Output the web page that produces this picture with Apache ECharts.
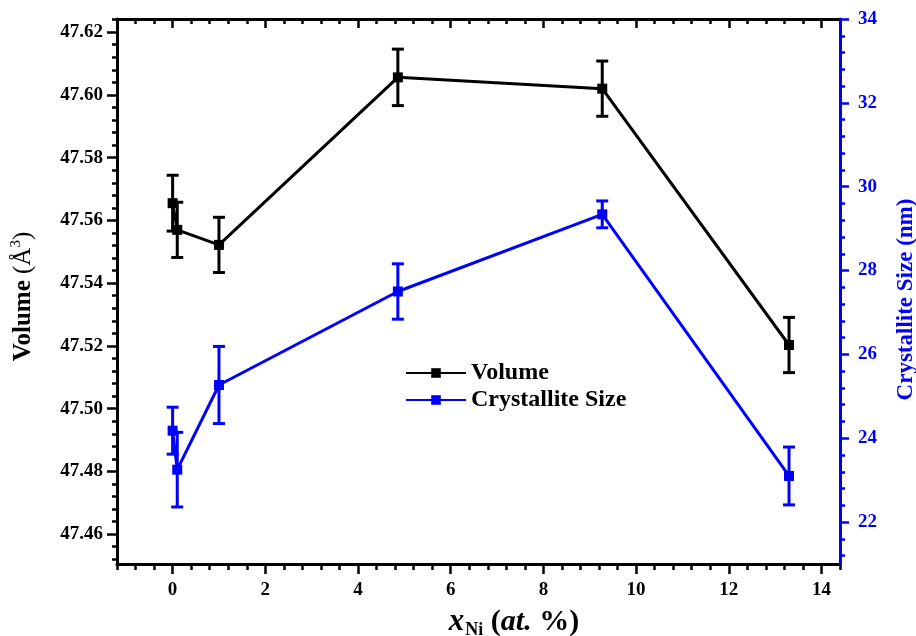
<!DOCTYPE html>
<html>
<head>
<meta charset="utf-8">
<script src="https://cdn.jsdelivr.net/npm/echarts@6/dist/echarts.min.js"></script>
<style>
  html, body { margin: 0; padding: 0; background: #fff; }
  #chart { width: 916px; height: 636px; }
</style>
</head>
<body>
<div id="chart"></div>
<script>
// Ni content (at. %)
const xNi = [0, 0.1, 1, 4.86, 9.27, 13.3]
const volume = [47.5655, 47.5570, 47.5522, 47.6056, 47.6020, 47.5203]
const volumeErr = [0.0089, 0.0088, 0.0088, 0.0090, 0.0088, 0.0088]
const crystSize = [24.18, 23.25, 25.27, 27.50, 29.34, 23.10]
const crystErr = [0.56, 0.89, 0.92, 0.66, 0.32, 0.69]

const xTicks = [0, 2, 4, 6, 8, 10, 12, 14]
const volTicks = [47.46, 47.48, 47.50, 47.52, 47.54, 47.56, 47.58, 47.60, 47.62]
const sizeTicks = [22, 24, 26, 28, 30, 32, 34]

const X_RANGE = [-1.2, 14.4]
const VOL_RANGE = [47.4505, 47.6242]
const SIZE_RANGE = [21, 34]

const FONT = '"Liberation Serif", "Times New Roman", serif'
const BLUE = '#0000ff'

// minor ticks: 4 between majors, continued past the ends up to the axis range
function minors(majors, range) {
  const step = (majors[1] - majors[0]) / 5
  const out = []
  const start = majors[0] - Math.floor((majors[0] - range[0]) / step + 1e-6) * step
  for (let v = start; v <= range[1] + 1e-9; v += step) {
    const r = +v.toFixed(6)
    if (!majors.some(m => Math.abs(m - r) < step / 10)) out.push(r)
  }
  return out
}

function errorData(xs, ys, es) {
  return xs.map((x, i) => [x, ys[i] - es[i], ys[i] + es[i]])
}

function errorBarRenderer(color) {
  return (params, api) => {
    const x = api.value(0)
    const lo = api.coord([x, api.value(1)])
    const hi = api.coord([x, api.value(2)])
    const hw = 6
    const style = { stroke: color, lineWidth: 3 }
    return {
      type: 'group',
      children: [
        { type: 'line', shape: { x1: lo[0], y1: lo[1], x2: hi[0], y2: hi[1] }, style },
        { type: 'line', shape: { x1: hi[0] - hw, y1: hi[1], x2: hi[0] + hw, y2: hi[1] }, style },
        { type: 'line', shape: { x1: lo[0] - hw, y1: lo[1], x2: lo[0] + hw, y2: lo[1] }, style },
      ],
    }
  }
}

const labelStyle = { fontFamily: FONT, fontWeight: 'bold', fontSize: 19, color: '#000' }

function baseAxis(range) {
  return {
    type: 'value',
    min: range[0],
    max: range[1],
    splitLine: { show: false },
    axisLine: { show: false, onZero: false },
    axisTick: { show: false },
    axisLabel: { show: false },
  }
}

function tickAxis(range, position, values, length, color, inside) {
  const a = baseAxis(range)
  a.position = position
  a.axisTick = { show: true, inside: !!inside, length, customValues: values, lineStyle: { color, width: 2.5 } }
  return a
}

function frameLine(color) {
  return { show: true, onZero: false, lineStyle: { color, width: 3 } }
}

const chart = echarts.init(document.getElementById('chart'))

const xMain = tickAxis(X_RANGE, 'bottom', xTicks, 10, '#000')
xMain.axisLine = frameLine('#000')
xMain.axisLabel = { show: true, customValues: xTicks, margin: 17, ...labelStyle }
xMain.name = '{x|x}{sub|Ni}{t| (}{i|at.}{t| %)}'
xMain.nameLocation = 'middle'
xMain.nameGap = 38
xMain.nameTextStyle = {
  padding: [0, 0, 0, 71],
  rich: {
    x: { fontFamily: FONT, fontWeight: 'bold', fontStyle: 'italic', fontSize: 31, lineHeight: 34 },
    sub: { fontFamily: FONT, fontWeight: 'bold', fontSize: 18, lineHeight: 18, padding: [16, 0, 0, 1] },
    t: { fontFamily: FONT, fontWeight: 'bold', fontSize: 30, lineHeight: 34 },
    i: { fontFamily: FONT, fontWeight: 'bold', fontStyle: 'italic', fontSize: 30, lineHeight: 34 },
  },
}

const xTop = tickAxis(X_RANGE, 'top', xTicks, 9, '#000', true)
xTop.axisLine = frameLine('#000')

const yVol = tickAxis(VOL_RANGE, 'left', volTicks, 10, '#000')
yVol.axisLine = frameLine('#000')
yVol.axisLabel = {
  show: true, customValues: volTicks, margin: 14, formatter: v => v.toFixed(2), ...labelStyle,
}
yVol.name = '{b|Volume }{n|(Å}{sup|3}{n|)}'
yVol.nameLocation = 'middle'
yVol.nameRotate = 90
yVol.nameGap = 79
yVol.nameTextStyle = {
  padding: [0, 10, 0, 0],
  rich: {
    b: { fontFamily: FONT, fontWeight: 'bold', fontSize: 25, color: '#000' },
    n: { fontFamily: FONT, fontSize: 25, color: '#000' },
    sup: { fontFamily: FONT, fontSize: 15, color: '#000', padding: [0, 0, 14, 0] },
  },
}

const ySize = tickAxis(SIZE_RANGE, 'right', sizeTicks, 9, BLUE)
ySize.axisLine = frameLine(BLUE)
ySize.axisLabel = { show: true, customValues: sizeTicks, margin: 18, ...labelStyle, color: BLUE }
ySize.name = 'Crystallite Size (nm)'
ySize.nameLocation = 'middle'
ySize.nameRotate = 90
ySize.nameGap = 55
ySize.nameTextStyle = {
  fontFamily: FONT, fontWeight: 'bold', fontSize: 23, color: BLUE, padding: [0, 16, 0, 0],
}
ySize.z = 5

const option = {
  animation: false,
  backgroundColor: '#fff',
  grid: { left: 117, right: 76, top: 19, bottom: 72, containLabel: false, outerBoundsMode: 'none' },
  legend: {
    data: ['Volume', 'Crystallite Size'],
    orient: 'vertical',
    left: 400,
    top: 356,
    itemWidth: 60,
    itemHeight: 12,
    itemGap: 3,
    textStyle: { fontFamily: FONT, fontWeight: 'bold', fontSize: 24, color: '#000' },
  },
  xAxis: [
    xMain,
    tickAxis(X_RANGE, 'bottom', minors(xTicks, X_RANGE), 6, '#000'),
    xTop,
    tickAxis(X_RANGE, 'top', minors(xTicks, X_RANGE), 5, '#000', true),
  ],
  yAxis: [
    yVol,
    tickAxis(VOL_RANGE, 'left', minors(volTicks, VOL_RANGE), 5, '#000'),
    ySize,
    tickAxis(SIZE_RANGE, 'right', minors(sizeTicks, SIZE_RANGE), 5, BLUE),
  ],
  series: [
    {
      name: 'Volume',
      type: 'line',
      xAxisIndex: 0,
      yAxisIndex: 0,
      data: xNi.map((x, i) => [x, volume[i]]),
      color: '#000',
      lineStyle: { color: '#000', width: 3 },
      symbol: 'rect',
      symbolSize: 10,
      itemStyle: { color: '#000' },
    },
    {
      name: 'Crystallite Size',
      type: 'line',
      xAxisIndex: 0,
      yAxisIndex: 2,
      data: xNi.map((x, i) => [x, crystSize[i]]),
      color: BLUE,
      lineStyle: { color: BLUE, width: 3 },
      symbol: 'rect',
      symbolSize: 10,
      itemStyle: { color: BLUE },
    },
    {
      name: 'Volume error',
      type: 'custom',
      xAxisIndex: 0,
      yAxisIndex: 0,
      renderItem: errorBarRenderer('#000'),
      data: errorData(xNi, volume, volumeErr),
      z: 3,
    },
    {
      name: 'Crystallite Size error',
      type: 'custom',
      xAxisIndex: 0,
      yAxisIndex: 2,
      renderItem: errorBarRenderer(BLUE),
      data: errorData(xNi, crystSize, crystErr),
      z: 3,
    },
  ],
}

chart.setOption(option)
</script>
</body>
</html>
